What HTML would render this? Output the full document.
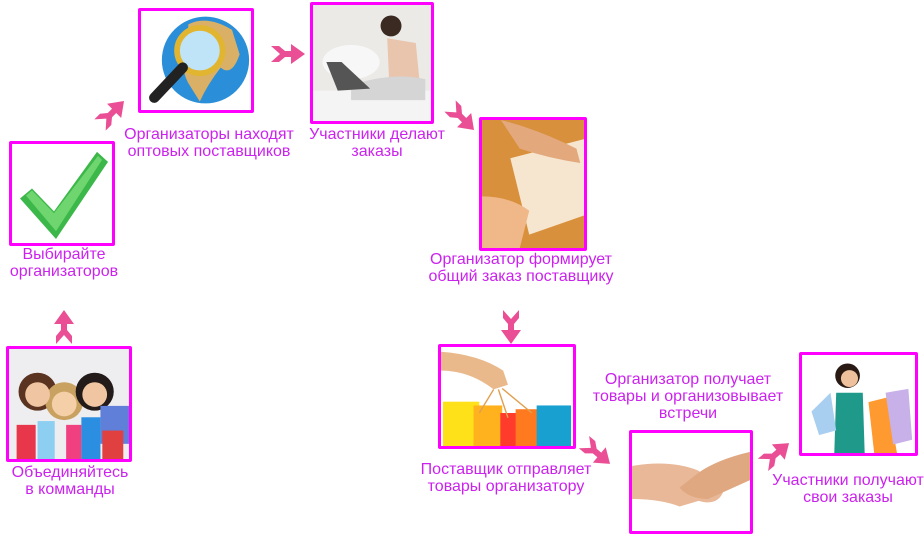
<!DOCTYPE html>
<html><head><meta charset="utf-8">
<style>
html,body{margin:0;padding:0;background:#fff;}
body{width:924px;height:545px;position:relative;overflow:hidden;font-family:"Liberation Sans",sans-serif;}
.b{position:absolute;box-sizing:border-box;border:3px solid #f0f;border-radius:2px;overflow:hidden;background:#fff;}
.b svg{position:absolute;left:0;top:0;width:100%;height:100%;}
.t{position:absolute;color:#cc22ee;font-size:16px;line-height:17px;text-align:center;white-space:nowrap;transform:translateX(-50%);}
.a{position:absolute;width:34px;height:20px;}
</style></head><body>

<div class="b" style="left:9px;top:141px;width:106px;height:105px;">
<svg viewBox="0 0 100 100" preserveAspectRatio="none"><path d="M8 55 L20 45 L42 68 L85 8 L96 18 L44 96 Z" fill="#3cb84a"/><path d="M14 52 L20 47 L42 70 L86 12 L90 16 L44 88 Z" fill="#6fd66f"/></svg></div>

<div class="b" style="left:138px;top:8px;width:116px;height:105px;">
<svg viewBox="0 0 116 105" preserveAspectRatio="none"><circle cx="68" cy="52" r="46" fill="#2a8ed8"/><path d="M50 14 Q70 4 96 20 L104 46 Q96 70 84 60 Q70 78 62 96 L52 80 Q40 62 48 40Z" fill="#d9b066"/><circle cx="62" cy="42" r="24" fill="#bfe3f7" stroke="#e2b530" stroke-width="6"/><path d="M44 60 L14 92" stroke="#222" stroke-width="11" stroke-linecap="round"/></svg></div>

<div class="b" style="left:310px;top:2px;width:124px;height:122px;">
<svg viewBox="0 0 124 122" preserveAspectRatio="none"><rect width="124" height="122" fill="#eceae6"/><rect x="0" y="90" width="124" height="32" fill="#f4f4f4"/><ellipse cx="40" cy="60" rx="30" ry="18" fill="#f7f7f7"/><circle cx="82" cy="22" r="11" fill="#3a2a22"/><path d="M78 35 L108 40 L112 80 L80 80Z" fill="#e9c5ad"/><path d="M40 85 Q80 70 118 78 L118 100 L40 100Z" fill="#d5d5d5"/><path d="M14 60 L26 90 L60 88 L30 60Z" fill="#555"/></svg></div>

<div class="b" style="left:479px;top:117px;width:108px;height:134px;">
<svg viewBox="0 0 108 134" preserveAspectRatio="none"><rect width="108" height="134" fill="#c47a2a"/><rect width="108" height="134" fill="#e39a45" opacity=".7"/><path d="M30 40 L108 20 L108 100 L50 120Z" fill="#f6e6cf"/><path d="M20 0 Q60 10 100 30 L104 45 Q70 40 40 30 Z" fill="#e3a87c"/><path d="M0 80 Q30 80 50 95 L40 134 L0 134Z" fill="#f0b888"/></svg></div>

<div class="b" style="left:6px;top:346px;width:126px;height:116px;">
<svg viewBox="0 0 126 116" preserveAspectRatio="none"><rect width="126" height="116" fill="#eeeef0"/><circle cx="30" cy="45" r="20" fill="#5a3420"/><circle cx="58" cy="55" r="20" fill="#c9a160"/><circle cx="90" cy="45" r="20" fill="#231a1a"/><circle cx="30" cy="48" r="13" fill="#f0c6a2"/><circle cx="58" cy="58" r="13" fill="#f4cfa8"/><circle cx="90" cy="48" r="13" fill="#f0c6a2"/><rect x="96" y="60" width="30" height="40" fill="#5f7fd8"/><rect x="8" y="80" width="20" height="36" fill="#e8364a"/><rect x="30" y="76" width="18" height="40" fill="#8ccff0"/><rect x="60" y="80" width="16" height="36" fill="#f04080"/><rect x="76" y="72" width="20" height="44" fill="#2c8ee0"/><rect x="98" y="86" width="22" height="30" fill="#e04040"/></svg></div>

<div class="b" style="left:438px;top:344px;width:138px;height:105px;">
<svg viewBox="0 0 138 105" preserveAspectRatio="none"><rect width="138" height="105" fill="#fff"/><path d="M0 5 Q40 8 65 25 L70 40 L55 45 Q30 25 0 25Z" fill="#e9b98c"/><rect x="2" y="58" width="38" height="47" fill="#ffe11a"/><rect x="34" y="62" width="30" height="43" fill="#ffb21e"/><rect x="62" y="70" width="20" height="35" fill="#ff3b2c"/><rect x="78" y="66" width="26" height="39" fill="#ff7a1e"/><rect x="100" y="62" width="36" height="43" fill="#17a0d0"/><path d="M55 45 L40 70 M60 45 L70 75 M64 44 L95 70" stroke="#e0a050" stroke-width="1.5" fill="none"/></svg></div>

<div class="b" style="left:629px;top:430px;width:124px;height:104px;">
<svg viewBox="0 0 124 104" preserveAspectRatio="none"><rect width="124" height="104" fill="#fff"/><path d="M0 35 Q40 28 70 40 L96 62 Q90 78 70 72 L50 78 Q30 70 0 70Z" fill="#e8b898"/><path d="M124 20 Q90 28 70 42 L50 58 Q60 70 80 70 L124 50Z" fill="#dfa880"/></svg></div>

<div class="b" style="left:799px;top:352px;width:119px;height:104px;">
<svg viewBox="0 0 119 104" preserveAspectRatio="none"><rect width="119" height="104" fill="#fff"/><circle cx="48" cy="22" r="13" fill="#2a1a14"/><circle cx="50" cy="25" r="9" fill="#eec09c"/><path d="M36 40 L64 40 L66 104 L34 104Z" fill="#1f9a8a"/><path d="M10 60 L30 40 L36 80 L18 85Z" fill="#a8cff0"/><path d="M70 50 L90 45 L100 104 L76 104Z" fill="#ff9a30"/><path d="M88 40 L112 36 L116 90 L96 95Z" fill="#c8b0e8"/></svg></div>

<div class="t" style="left:209px;top:126px;">Организаторы находят<br>оптовых поставщиков</div>
<div class="t" style="left:377px;top:126px;">Участники делают<br>заказы</div>
<div class="t" style="left:64px;top:246px;">Выбирайте<br>организаторов</div>
<div class="t" style="left:521px;top:251px;">Организатор формирует<br>общий заказ поставщику</div>
<div class="t" style="left:70px;top:464px;">Объединяйтесь<br>в комманды</div>
<div class="t" style="left:506px;top:461px;">Поставщик отправляет<br>товары организатору</div>
<div class="t" style="left:688px;top:371px;">Организатор получает<br>товары и организовывает<br>встречи</div>
<div class="t" style="left:848px;top:472px;">Участники получают<br>свои заказы</div>

<svg width="0" height="0" style="position:absolute"><defs><g id="ar"><path d="M0 2 L9 10 L0 18 L8 18 L14 13 L20 13 L20 20 L34 10 L20 0 L20 7 L14 7 L8 2Z" fill="#ea4f95"/></g></defs></svg>
<svg class="a" style="left:47px;top:317px;transform:rotate(-90deg);" viewBox="0 0 34 20"><use href="#ar"/></svg>
<svg class="a" style="left:95px;top:103px;transform:rotate(-45deg);" viewBox="0 0 34 20"><use href="#ar"/></svg>
<svg class="a" style="left:271px;top:44px;" viewBox="0 0 34 20"><use href="#ar"/></svg>
<svg class="a" style="left:445px;top:108px;transform:rotate(45deg);" viewBox="0 0 34 20"><use href="#ar"/></svg>
<svg class="a" style="left:494px;top:317px;transform:rotate(90deg);" viewBox="0 0 34 20"><use href="#ar"/></svg>
<svg class="a" style="left:580px;top:443px;transform:rotate(40deg);" viewBox="0 0 34 20"><use href="#ar"/></svg>
<svg class="a" style="left:759px;top:444px;transform:rotate(-40deg);" viewBox="0 0 34 20"><use href="#ar"/></svg>

</body></html>
